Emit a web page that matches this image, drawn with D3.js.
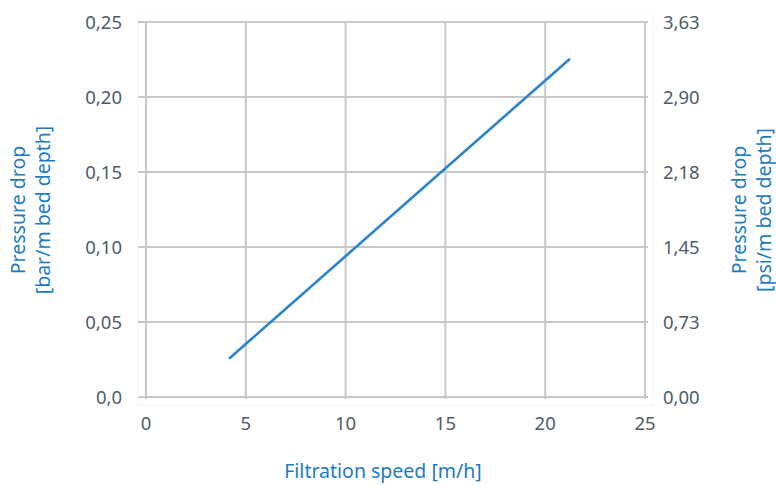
<!DOCTYPE html>
<html><head><meta charset="utf-8">
<script src="https://cdn.jsdelivr.net/npm/d3@7"></script>
<style>body{margin:0;background:#fff}svg{display:block}</style>
</head><body>
<script>
const speed = [4.2, 21.2];
const pressureBar = [0.026, 0.225];
const xTicks = [0, 5, 10, 15, 20, 25];
const yTicks = [0, 0.05, 0.10, 0.15, 0.20, 0.25];
const yTickLabels = ["0,0", "0,05", "0,10", "0,15", "0,20", "0,25"];
const psiTickLabels = ["0,00", "0,73", "1,45", "2,18", "2,90", "3,63"];

(function () {
const W = 776, H = 486;
const mL = 146, mR = 645, mT = 22, mB = 397;
const svg = d3.select("body").append("svg").attr("width", W).attr("height", H);
const x = d3.scaleLinear().domain([0, 25]).range([mL, mR]);
const y = d3.scaleLinear().domain([0, 0.25]).range([mB, mT]);
const font = "'Noto Sans', 'Open Sans', sans-serif";
const tickColor = "#4d5b69", titleColor = "#1b7bc4", gridColor = "#c8c8c8";
const tickSize = 18.5, titleSize = 19.5;

svg.append("rect").attr("x", mL - 8).attr("y", mT - 7).attr("width", mR - mL + 16).attr("height", mB - mT + 15)
  .attr("fill", "none").attr("stroke", "#f3f3f3").attr("stroke-width", 1);

svg.append("g").selectAll("line").data(yTicks).join("line")
  .attr("x1", mL - 8).attr("x2", mR + 3)
  .attr("y1", d => y(d)).attr("y2", d => y(d))
  .attr("stroke", gridColor).attr("stroke-width", 2);
svg.append("g").selectAll("line").data(xTicks).join("line")
  .attr("x1", d => x(d)).attr("x2", d => x(d))
  .attr("y1", mT).attr("y2", mB + 2)
  .attr("stroke", gridColor).attr("stroke-width", 2);

svg.append("g").selectAll("text").data(xTicks).join("text")
  .attr("x", d => x(d)).attr("y", mB + 33)
  .attr("text-anchor", "middle").attr("font-family", font).attr("font-size", tickSize).attr("fill", tickColor)
  .text(d => d);
svg.append("g").selectAll("text").data(yTicks).join("text")
  .attr("x", 122).attr("y", d => y(d) + 7)
  .attr("text-anchor", "end").attr("font-family", font).attr("font-size", tickSize).attr("fill", tickColor)
  .text((d, i) => yTickLabels[i]);
svg.append("g").selectAll("text").data(yTicks).join("text")
  .attr("x", 663).attr("y", d => y(d) + 7)
  .attr("text-anchor", "start").attr("font-family", font).attr("font-size", tickSize).attr("fill", tickColor)
  .text((d, i) => psiTickLabels[i]);

const pts = speed.map((s, i) => [s, pressureBar[i]]);
svg.append("path").datum(pts)
  .attr("d", d3.line().x(d => x(d[0])).y(d => y(d[1])))
  .attr("fill", "none").attr("stroke", "#2e83cb").attr("stroke-width", 2.6).attr("stroke-linecap", "round");

svg.append("text").attr("x", 383).attr("y", 478)
  .attr("text-anchor", "middle").attr("font-family", font).attr("font-size", titleSize).attr("fill", titleColor)
  .text("Filtration speed [m/h]");

function yTitle(cx1, cx2, cy, l1, l2) {
  const g = svg.append("g").attr("font-family", font).attr("font-size", titleSize).attr("fill", titleColor).attr("text-anchor", "middle");
  g.append("text").attr("transform", `translate(${cx1},${cy}) rotate(-90)`).text(l1);
  g.append("text").attr("transform", `translate(${cx2},${cy}) rotate(-90)`).text(l2);
}
yTitle(25, 50, 210, "Pressure drop", "[bar/m bed depth]");
yTitle(746, 771, 210, "Pressure drop", "[psi/m bed depth]");
})();
</script>
</body></html>
